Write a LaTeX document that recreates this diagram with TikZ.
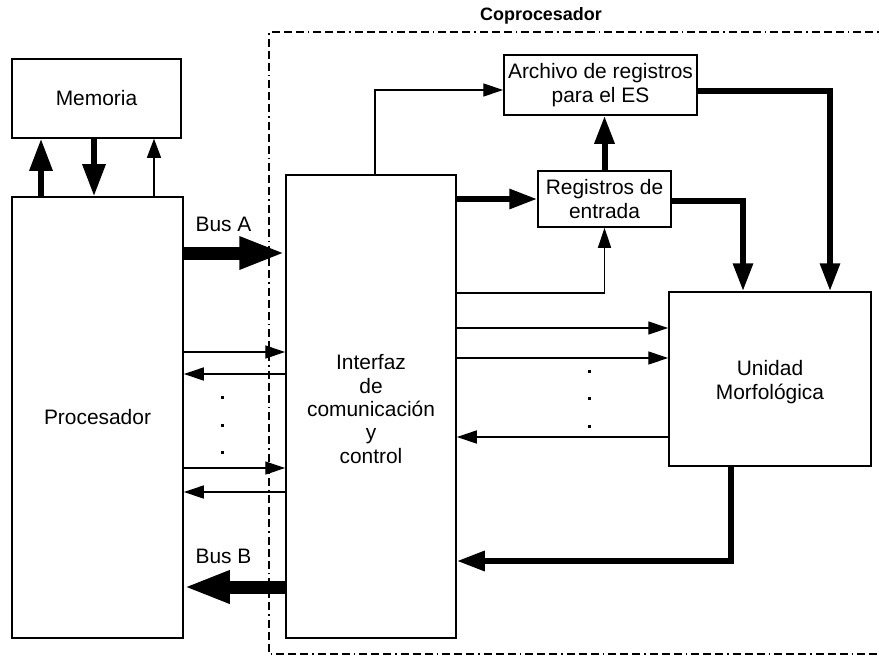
\documentclass[tikz,border=0pt]{standalone}
\usepackage{fontspec}
\setmainfont{Liberation Sans}
\usetikzlibrary{arrows.meta}
\begin{document}
\begin{tikzpicture}[x=1bp,y=-1bp,
  box/.style={draw, line width=1.5bp, align=center, inner sep=0pt,
    font=\fontsize{21}{23.5}\selectfont},
  lbl/.style={inner sep=0pt, font=\fontsize{21}{23.5}\selectfont},
  thinarr/.style={line width=1.3bp, -{Triangle[length=20bp,width=13bp]}},
  thinline/.style={line width=1.3bp},
  thickarr/.style={line width=6bp, -{Triangle[length=28bp,width=19bp]}},
  memarr/.style={line width=6bp, -{Triangle[length=32bp,width=22bp]}},
  busarr/.style={line width=13bp, -{Triangle[length=46bp,width=30bp]}},
  border/.style={line width=1.5bp,
    dash pattern=on 8bp off 4bp on 8bp off 4bp on 8bp off 4bp on 1.5bp off 4bp},
  dotmark/.style={fill=black},
]
\useasboundingbox (0,0) rectangle (879,657);

% coprocessor boundary (open on the right)
\draw[border] (885,32) -- (269,32) -- (269,654) -- (885,654);
\node[inner sep=0pt, font=\fontsize{18}{20}\selectfont\bfseries] (cop) at (541,16) {Coprocesador};

% blocks
\node[box, minimum width=169bp, minimum height=79bp] (mem) at (96.5,98.5) {Memoria};
\node[box, minimum width=171bp, minimum height=441bp] (proc) at (97.5,417.5) {Procesador};
\node[box, minimum width=170bp, minimum height=463bp] (icc) at (371,406.5) {};
\node[lbl, align=center] (icctext) at (371,409)
  {Interfaz\\de\\comunicación\\y\\control};
\node[box, minimum width=193bp, minimum height=60bp] (arch) at (600.5,85)
  {Archivo de registros\\para el ES};
\node[box, minimum width=133bp, minimum height=56bp] (reg) at (604.5,199)
  {Registros de\\entrada};
\node[box, minimum width=202bp, minimum height=174bp] (um) at (770,379) {};
\node[lbl, align=center] (umtext) at (770,382) {Unidad\\Morfológica};

% helper coordinates for connector tracks
\coordinate (xm1) at (41,0);
\coordinate (xm2) at (94,0);
\coordinate (xm3) at (154,0);
\coordinate (yA) at (0,253);
\coordinate (yB) at (0,587);
\coordinate (yl1) at (0,352);
\coordinate (yl2) at (0,374);
\coordinate (yl3) at (0,468);
\coordinate (yl4) at (0,492);
\coordinate (yr1) at (0,328);
\coordinate (yr2) at (0,358);
\coordinate (yr3) at (0,437);
\coordinate (xtop) at (375,0);
\coordinate (ytop) at (0,90);
\coordinate (yreg) at (0,293);
\coordinate (xr1) at (743,0);
\coordinate (xr2) at (830,0);
\coordinate (xout) at (731,0);
\coordinate (yout) at (0,561);
\coordinate (ya) at (0,91);
\coordinate (yre) at (0,201);

% memory <-> processor
\draw[memarr] (proc.north -| xm1) -- (mem.south -| xm1);
\draw[memarr] (mem.south -| xm2) -- (proc.north -| xm2);
\draw[line width=1.3bp, -{Triangle[length=19bp,width=14bp]}] (proc.north -| xm3) -- (mem.south -| xm3);

% buses
\draw[busarr] (proc.east |- yA) -- (icc.west |- yA);
\draw[busarr] (icc.west |- yB) -- (proc.east |- yB);
\node[lbl] (busA) at (223.5,224) {Bus A};
\node[lbl] (busB) at (223.5,556) {Bus B};

% processor <-> interface control lines
\draw[thinarr] (proc.east |- yl1) -- (icc.west |- yl1);
\draw[thinarr] (icc.west |- yl2) -- (proc.east |- yl2);
\draw[thinarr] (proc.east |- yl3) -- (icc.west |- yl3);
\draw[thinarr] (icc.west |- yl4) -- (proc.east |- yl4);
\foreach \y in {397,425,452} \fill[dotmark] (220.5,\y-1.5) rectangle ++(3,3);

% interface -> register file / input registers
\draw[thinline, -{Triangle[length=20bp,width=13bp]}] (icc.north -| xtop) -- (xtop |- ytop) -- (arch.west |- ytop);
\draw[thickarr] (icc.east |- reg.west) -- (reg.west);
\draw[thickarr] (reg.north) -- (reg.north |- arch.south);
\draw[thinarr] (icc.east |- yreg) -- (reg.south |- yreg) -- (reg.south);

% registers -> morphological unit
\draw[thickarr] (reg.east |- yre) -- (xr1 |- yre) -- (xr1 |- um.north);
\draw[thickarr] (arch.east |- ya) -- (xr2 |- ya) -- (xr2 |- um.north);

% interface <-> morphological unit
\draw[thinarr] (icc.east |- yr1) -- (um.west |- yr1);
\draw[thinarr] (icc.east |- yr2) -- (um.west |- yr2);
\draw[thinarr] (um.west |- yr3) -- (icc.east |- yr3);
\foreach \y in {371,398,426} \fill[dotmark] (587.5,\y-1.5) rectangle ++(3,3);

% result path back to interface
\draw[thickarr] (um.south -| xout) -- (xout |- yout) -- (icc.east |- yout);
\end{tikzpicture}
\end{document}
